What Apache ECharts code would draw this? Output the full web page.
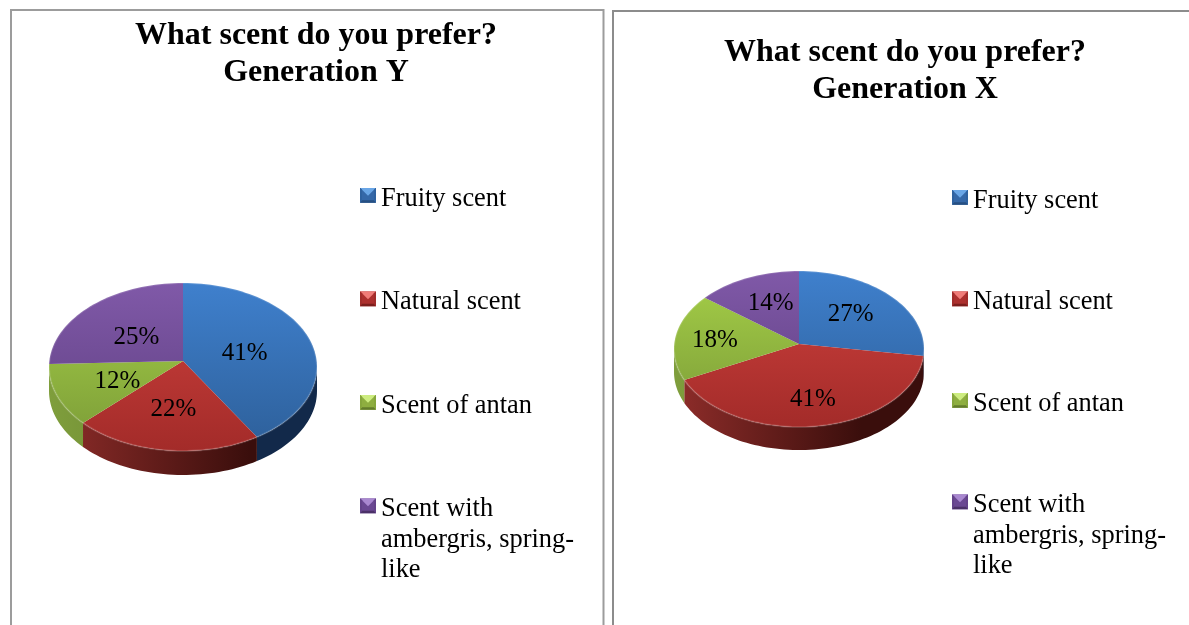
<!DOCTYPE html>
<html>
<head>
<meta charset="utf-8">
<style>html,body{margin:0;padding:0;background:#fff;overflow:hidden}#c{width:1189px;height:625px}</style>
<script src="https://cdn.jsdelivr.net/npm/echarts@6/dist/echarts.min.js"></script>
</head>
<body>
<div id="c"></div>
<script>
const categories = ['Fruity scent', 'Natural scent', 'Scent of antan', 'Scent with ambergris, spring-like'];
const genYValues = [41, 22, 12, 25];
const genXValues = [27, 41, 18, 14];
const titleY = 'What scent do you prefer?\nGeneration Y';
const titleX = 'What scent do you prefer?\nGeneration X';

const SERIF = '"Liberation Serif", "Times New Roman", serif';
const topColors = [['#3f80cd', '#2d5f99'], ['#cf423e', '#a32b29'], ['#a6d048', '#7a9a37'], ['#8059a8', '#5d3e80']];
const wallColors = [['#163656', '#12294a'], ['#8f2d2a', '#3a0e0c'], ['#7f9e3c', '#5d782c'], ['#4a3066', '#2f1d44']];
const iconShades = [
  ['#6aa6e6', '#2f62a0', '#3568a8', '#264f82'],
  ['#f07c78', '#a12d2b', '#ad302e', '#7c1f1d'],
  ['#cdec80', '#86a63c', '#8eae40', '#637c2c'],
  ['#a988d0', '#64438a', '#6a4892', '#4b3168']
];
const pieY = { values: genYValues, cx: 183, cy: 367, rx: 134, ry: 84, vy: 361, depth: 24, labelDy: [4, 2, 6, 7], labelR: [0.48, 0.56, 0.52, 0.5] };
const pieX = { values: genXValues, cx: 799, cy: 349, rx: 125, ry: 78, vy: 344, depth: 23, labelDy: [0, 2, 5, -2], labelR: [0.56, 0.7, 0.68, 0.55] };

function iconUri(i) {
  const s = iconShades[i];
  const svg = '<svg xmlns="http://www.w3.org/2000/svg" width="16" height="22" viewBox="0 0 16 22">' +
    '<rect width="16" height="15" fill="' + s[2] + '"/>' +
    '<polygon points="0,0 16,0 8,8" fill="' + s[0] + '"/>' +
    '<polygon points="0,15 16,15 14,12.5 2,12.5" fill="' + s[3] + '"/>' +
    '<polygon points="0,0 2,2 2,12.5 0,15" fill="' + s[1] + '"/>' +
    '<polygon points="16,0 14,2 14,12.5 16,15" fill="' + s[1] + '"/></svg>';
  return 'image://data:image/svg+xml,' + encodeURIComponent(svg);
}

function ell(p, deg, dy) {
  const a = deg * Math.PI / 180;
  return [p.cx + p.rx * Math.sin(a), p.cy - p.ry * Math.cos(a) + (dy || 0)];
}
function tilt(deg) {
  return deg - 2 * Math.sin(deg * Math.PI / 180);
}
function arc(p, a0, a1, dy) {
  const pts = [], n = Math.max(2, Math.ceil((a1 - a0) / 2));
  for (let k = 0; k <= n; k++) pts.push(ell(p, a0 + (a1 - a0) * k / n, dy));
  return pts;
}
function grad(x, y, x2, y2, c) {
  return { type: 'linear', x: x, y: y, x2: x2, y2: y2, global: true,
    colorStops: [{ offset: 0, color: c[0] }, { offset: 1, color: c[1] }] };
}
function sliceSeries(p, i) {
  const total = p.values.reduce((s, v) => s + v, 0);
  const start = tilt(p.values.slice(0, i).reduce((s, v) => s + v, 0) / total * 360);
  const end = tilt(p.values.slice(0, i + 1).reduce((s, v) => s + v, 0) / total * 360);
  return {
    type: 'custom',
    name: categories[i],
    coordinateSystem: 'none',
    silent: true,
    data: [p.values[i]],
    color: topColors[i][0],
    renderItem: function () {
      const children = [];
      const w0 = Math.max(start, 90), w1 = Math.min(end, 270);
      if (w1 > w0) {
        const upper = arc(p, w0, w1, 0), lower = arc(p, w0, w1, p.depth).reverse();
        children.push({ type: 'polygon', shape: { points: upper.concat(lower) },
          style: { fill: grad(p.cx - p.rx, 0, p.cx + p.rx * 0.5, 0, wallColors[i]) } });
      }
      const edge = arc(p, start, end, 0);
      children.push({ type: 'polygon', shape: { points: [[p.cx, p.vy]].concat(edge) },
        style: { fill: grad(0, p.cy - p.ry, 0, p.cy + p.ry, topColors[i]) } });
      children.push({ type: 'polyline', shape: { points: edge },
        style: { fill: null, stroke: 'rgba(255,255,255,0.15)', lineWidth: 2 } });
      const mid = ell(p, (start + end) / 2, 0), r = p.labelR[i];
      children.push({ type: 'text', x: p.cx + (mid[0] - p.cx) * r, y: p.vy + p.labelDy[i] + (mid[1] - p.cy) * r,
        style: { text: p.values[i] + '%', fontFamily: SERIF, fontSize: 25, fill: '#000', align: 'center', verticalAlign: 'middle' } });
      return { type: 'group', children: children };
    }
  };
}
function legendOf(left, top, gap, idx) {
  return {
    orient: 'vertical', left: left, top: top, height: 900, padding: 0, itemGap: gap,
    itemWidth: 16, itemHeight: 22,
    selectedMode: false,
    data: idx.map(i => ({ name: categories[i], icon: iconUri(i) })),
    formatter: function (n) {
      return n === categories[3] ? '\n\nScent with\nambergris, spring-\nlike' : n;
    },
    textStyle: { fontFamily: SERIF, fontSize: 26.4, color: '#000', lineHeight: 30.5 }
  };
}
function titleOf(text, x, top) {
  return { text: text, left: x, top: top, textAlign: 'center', padding: 0,
    textStyle: { fontFamily: SERIF, fontSize: 32, fontWeight: 'bold', color: '#000', lineHeight: 37 } };
}
const chart = echarts.init(document.getElementById('c'), null, { renderer: 'canvas' });
chart.setOption({
  animation: false,
  backgroundColor: '#fff',
  title: [titleOf(titleY, 316, 17), titleOf(titleX, 905, 34)],
  legend: [
    legendOf(360, 183.5, 73, [0, 1, 2]),
    legendOf(360, 433, 0, [3]),
    legendOf(952, 185.5, 71, [0, 1, 2]),
    legendOf(952, 429, 0, [3])
  ],
  graphic: [
    { type: 'rect', shape: { x: 11, y: 10, width: 592.5, height: 700 }, style: { fill: null, stroke: '#9c9c9c', lineWidth: 2 }, silent: true, z: -1 },
    { type: 'rect', shape: { x: 613, y: 11, width: 700, height: 700 }, style: { fill: null, stroke: '#8c8c8c', lineWidth: 2 }, silent: true, z: -1 }
  ],
  series: [0, 1, 2, 3].map(i => sliceSeries(pieY, i)).concat([0, 1, 2, 3].map(i => sliceSeries(pieX, i)))
});
</script>
</body>
</html>
